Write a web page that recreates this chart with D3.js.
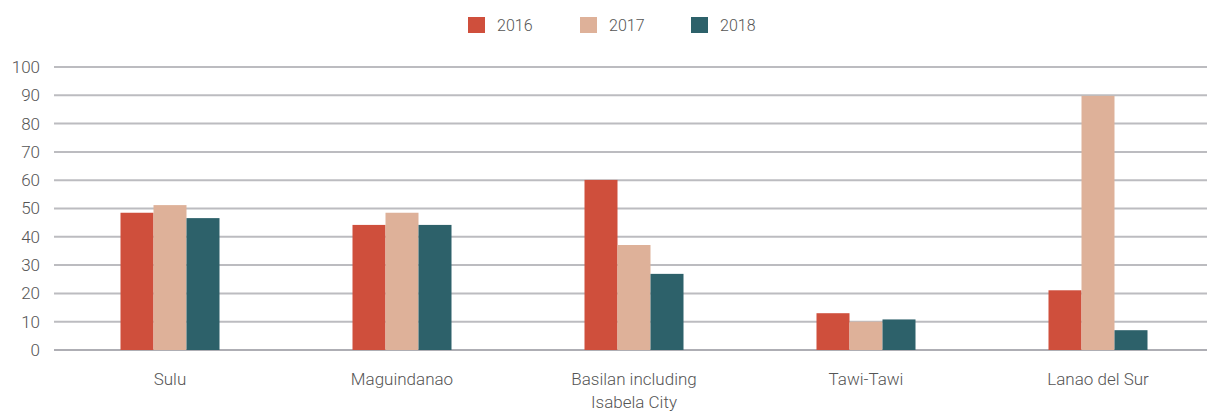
<!DOCTYPE html>
<html>
<head>
<meta charset="utf-8">
<script src="https://cdn.jsdelivr.net/npm/d3@7"></script>
<style>
  body { margin: 0; background: #fff; }
  text { font-family: Roboto, "Noto Sans", sans-serif; font-weight: 300; fill: #555; }
</style>
</head>
<body>
<svg class="chart"></svg>
<script>
// Data
const provinces = ["Sulu", "Maguindanao", "Basilan including|Isabela City", "Tawi-Tawi", "Lanao del Sur"]
const years = ["2016", "2017", "2018"]
const values2016 = [48.5, 44.2, 60.1, 13.0, 21.1]
const values2017 = [51.2, 48.5, 37.1, 10.0, 89.8]
const values2018 = [46.6, 44.2, 26.9, 10.8, 7.0]
const yTicks = [0, 10, 20, 30, 40, 50, 60, 70, 80, 90, 100]
const colors = ["#cf4f3c", "#deb199", "#2d616a"]

const series = [values2016, values2017, values2018]

var width = 1208
var height = 412
var margin = { top: 67, right: -6, bottom: 62, left: 54 }

var svg = d3.select(".chart")
  .attr("width", width)
  .attr("height", height)

var x0 = d3.scaleBand()
  .domain(provinces)
  .range([margin.left, width - margin.right])

var x1 = d3.scaleBand()
  .domain(years)
  .range([0, 99])

var y = d3.scaleLinear()
  .domain([0, 100])
  .range([height - margin.bottom, margin.top])

// Gridlines
svg.append("g")
  .selectAll("line")
  .data(yTicks)
  .enter()
  .append("line")
  .attr("x1", margin.left)
  .attr("x2", 1207)
  .attr("y1", function(d) { return y(d) })
  .attr("y2", function(d) { return y(d) })
  .attr("stroke", function(d) { return d === 0 ? "#aeaeb4" : "#bcbcc0" })
  .attr("stroke-width", 2)

// y tick labels
var yAxis = d3.axisLeft(y).tickValues(yTicks).tickSize(0).tickPadding(14)
var gy = svg.append("g")
  .attr("transform", "translate(" + margin.left + ",0)")
  .call(yAxis)
gy.select(".domain").remove()
gy.selectAll("text")
  .style("font-size", "17px")
  .style("font-family", "Roboto, sans-serif")
  .attr("fill", "#666")

// Bars
var groups = svg.append("g")
  .selectAll("g")
  .data(provinces)
  .enter()
  .append("g")
  .attr("transform", function(d) {
    return "translate(" + (x0(d) + x0.bandwidth() / 2 - 49.5) + ",0)"
  })

groups.selectAll("rect")
  .data(function(d, i) {
    return years.map(function(yr, j) { return { year: yr, value: series[j][i], k: j } })
  })
  .enter()
  .append("rect")
  .attr("x", function(d) { return x1(d.year) })
  .attr("width", x1.bandwidth())
  .attr("y", function(d) { return y(d.value) })
  .attr("height", function(d) { return y(0) - y(d.value) })
  .attr("fill", function(d) { return colors[d.k] })

// x labels (with line break)
var xl = svg.append("g")
  .selectAll("text")
  .data(provinces)
  .enter()
  .append("text")
  .attr("text-anchor", "middle")
  .attr("x", function(d) { return x0(d) + x0.bandwidth() / 2 })
  .attr("y", 385)
  .style("font-size", "17px")
  .attr("fill", "#666")

xl.selectAll("tspan")
  .data(function(d) { return d.split("|") })
  .enter()
  .append("tspan")
  .attr("x", function() { return d3.select(this.parentNode).attr("x") })
  .attr("dy", function(d, i) { return i === 0 ? 0 : 23 })
  .text(function(d) { return d })

// Legend
var legendX = [468, 580, 691]
var legend = svg.append("g")
  .selectAll("g")
  .data(years)
  .enter()
  .append("g")
  .attr("transform", function(d, i) { return "translate(" + legendX[i] + ",17)" })

legend.append("rect")
  .attr("width", 17)
  .attr("height", 16)
  .attr("fill", function(d, i) { return colors[i] })

legend.append("text")
  .attr("x", 29)
  .attr("y", 13.5)
  .style("font-size", "16px")
  .attr("fill", "#555")
  .text(function(d) { return d })
</script>
</body>
</html>
